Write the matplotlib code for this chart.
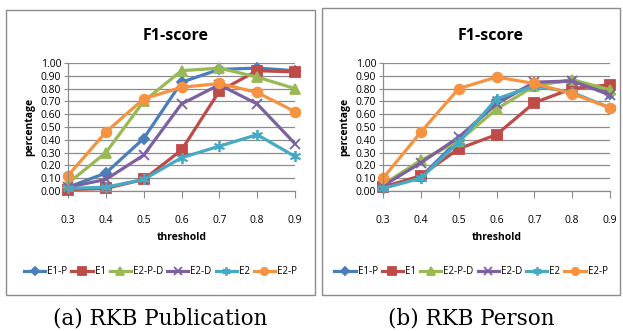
import matplotlib.pyplot as plt
from matplotlib.patches import Rectangle

# thresholds on the x axis
thresholds = ["0.3", "0.4", "0.5", "0.6", "0.7", "0.8", "0.9"]
series_names = ["E1-P", "E1", "E2-P-D", "E2-D", "E2", "E2-P"]

# (a) RKB Publication
pub_e1p = [0.03, 0.14, 0.41, 0.85, 0.95, 0.96, 0.94]
pub_e1 = [0.01, 0.02, 0.09, 0.32, 0.78, 0.94, 0.93]
pub_e2pd = [0.06, 0.30, 0.70, 0.94, 0.96, 0.89, 0.80]
pub_e2d = [0.03, 0.09, 0.28, 0.68, 0.83, 0.68, 0.37]
pub_e2 = [0.02, 0.03, 0.09, 0.26, 0.35, 0.44, 0.27]
pub_e2p = [0.12, 0.46, 0.72, 0.81, 0.84, 0.77, 0.62]

# (b) RKB Person
per_e1p = [0.03, 0.11, 0.40, 0.70, 0.84, 0.86, 0.76]
per_e1 = [0.03, 0.12, 0.33, 0.44, 0.69, 0.80, 0.83]
per_e2pd = [0.05, 0.24, 0.39, 0.64, 0.82, 0.87, 0.79]
per_e2d = [0.04, 0.22, 0.42, 0.68, 0.85, 0.86, 0.75]
per_e2 = [0.02, 0.10, 0.38, 0.72, 0.82, 0.77, 0.65]
per_e2p = [0.10, 0.46, 0.80, 0.89, 0.84, 0.76, 0.65]

colors = ["#4A7EBB", "#BE4B48", "#98B954", "#7D60A0", "#46AAC5", "#F69240"]
markers = ["D", "s", "^", "x", (6, 2, 0), "o"]
msizes = [5, 7, 7, 7, 8, 7]

plt.rcParams['font.family'] = ['Open Sans', 'DejaVu Sans']

fig = plt.figure(figsize=(6.23, 3.31), dpi=100)
W, H = 623.0, 331.0


def px_axes(x0, x1, y0, y1):
    # pixel box (from top-left) -> figure fraction
    return fig.add_axes([x0 / W, 1 - y1 / H, (x1 - x0) / W, (y1 - y0) / H])


def draw_panel(ax, data, box, caption):
    xs = list(range(len(thresholds)))
    handles = []
    for vals, name, c, m, ms in zip(data, series_names, colors, markers, msizes):
        h, = ax.plot(xs, vals, color=c, lw=2.3, marker=m, ms=ms,
                     mew=1.3, mec=c, mfc=c, label=name, clip_on=False)
        handles.append(h)
    ax.set_xlim(0, 6)
    ax.set_ylim(0, 1.0)
    ax.set_yticks([i / 10 for i in range(11)])
    ax.set_yticklabels(["%.2f" % (i / 10) for i in range(11)])
    ax.set_xticks(xs)
    ax.set_xticklabels(thresholds)
    ax.grid(axis='y', color='#8c8c8c', lw=0.9)
    ax.set_axisbelow(True)
    for s in ['top', 'right']:
        ax.spines[s].set_visible(False)
    for s in ['left', 'bottom']:
        ax.spines[s].set_color('#8c8c8c')
        ax.spines[s].set_linewidth(0.9)
    ax.tick_params(axis='y', length=3, color='#8c8c8c', labelsize=7.5, pad=2)
    ax.tick_params(axis='x', length=5, color='#8c8c8c', labelsize=7.5, pad=12)

    bx0, bx1, by0, by1 = box
    fig.patches.append(Rectangle((bx0 / W, 1 - by1 / H), (bx1 - bx0) / W,
                                 (by1 - by0) / H, transform=fig.transFigure,
                                 fill=False, ec='#8c8c8c', lw=1.0))
    cx = (bx0 + bx1) / 2
    pos = ax.get_position()
    axc = (pos.x0 + pos.x1) / 2
    fig.text(axc - 6 / W, 1 - 36 / H, "F1-score", ha='center', va='center',
             fontsize=11.5, fontweight='bold')
    fig.text(axc, 1 - 238 / H, "threshold", ha='center', va='center',
             fontsize=7.5, fontweight='bold')
    fig.text(pos.x0 - 38 / W, (pos.y0 + pos.y1) / 2, "percentage",
             ha='center', va='center', rotation=90, fontsize=7.5,
             fontweight='bold')
    fig.legend(handles=handles, loc='center', bbox_to_anchor=(cx / W, 1 - 272 / H),
               ncol=6, frameon=False, fontsize=7, handlelength=2.2,
               handletextpad=0.2, columnspacing=0.4, markerscale=0.75,
               borderaxespad=0)
    fig.text(cx / W, 1 - 318 / H, caption, ha='center', va='center',
             fontsize=15.5, family='DejaVu Serif')


ax1 = px_axes(68, 295, 63, 191)
draw_panel(ax1, [pub_e1p, pub_e1, pub_e2pd, pub_e2d, pub_e2, pub_e2p],
           (6, 315, 10, 295), "(a) RKB Publication")

ax2 = px_axes(383, 610, 63, 191)
draw_panel(ax2, [per_e1p, per_e1, per_e2pd, per_e2d, per_e2, per_e2p],
           (322, 620, 8, 295), "(b) RKB Person")

fig.savefig("out.png", dpi=100)
